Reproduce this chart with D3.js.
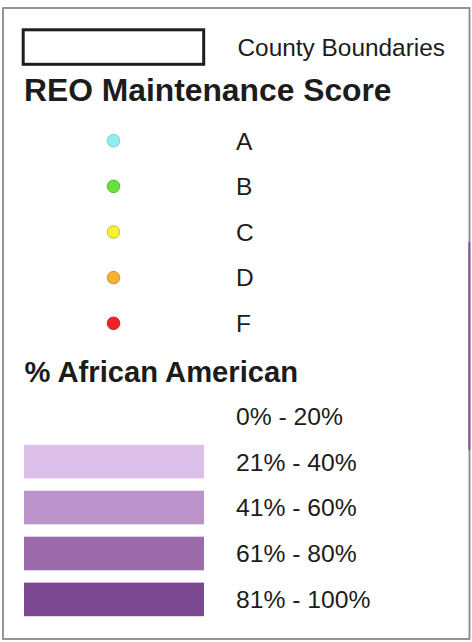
<!DOCTYPE html>
<html>
<head>
    <title>REO Maintenance Legend</title>
    <script src="https://d3js.org/d3.v7.min.js"></script>
    <style>
        body {
            margin: 0;
            background: #fff;
            font-family: "Liberation Sans", Arial, sans-serif;
        }
        text {
            fill: #1c1c1c;
        }
        .heading {
            font-weight: bold;
        }
    </style>
</head>
<body>
    <div id="legend"></div>

    <script>
        // Legend content
        const grades = ["A", "B", "C", "D", "F"];
        const gradeColors = ["#93eef4", "#66e23c", "#f7f12f", "#f6b22e", "#ef2323"];
        const gradeStrokes = ["#86c9cc", "#5bb83a", "#c9c43a", "#c99a3a", "#c92a2a"];

        const ranges = ["0% - 20%", "21% - 40%", "41% - 60%", "61% - 80%", "81% - 100%"];
        const rangeColors = [null, "#dbbfe9", "#bb92ca", "#9b6aab", "#7c4990"];

        const width = 472, height = 642;

        const svg = d3.select("#legend")
            .append("svg")
            .attr("width", width)
            .attr("height", height);

        // outer frame
        svg.append("rect")
            .attr("x", 3)
            .attr("y", 8)
            .attr("width", 466.5)
            .attr("height", 631)
            .attr("fill", "none")
            .attr("stroke", "#8a8a8a")
            .attr("stroke-width", 1.8);

        // bit of map showing through on the right edge
        svg.append("line")
            .attr("x1", 469.3).attr("x2", 469.3)
            .attr("y1", 242).attr("y2", 450)
            .attr("stroke", "#7d5a96")
            .attr("stroke-width", 2);

        // County boundaries
        svg.append("rect")
            .attr("x", 23.2)
            .attr("y", 29.8)
            .attr("width", 180.5)
            .attr("height", 34.5)
            .attr("fill", "none")
            .attr("stroke", "#1e1e1e")
            .attr("stroke-width", 3);

        svg.append("text")
            .attr("x", 237.5)
            .attr("y", 56)
            .attr("font-size", 24.4)
            .text("County Boundaries");

        // REO Maintenance Score
        svg.append("text")
            .attr("class", "heading")
            .attr("x", 24)
            .attr("y", 101)
            .attr("font-size", 31.8)
            .text("REO Maintenance Score");

        const yGrade = d3.scalePoint()
            .domain(grades)
            .range([140.7, 323.3]);

        const gradeRows = svg.selectAll(".grade")
            .data(grades)
            .enter()
            .append("g")
            .attr("class", "grade")
            .attr("transform", d => `translate(0,${yGrade(d)})`);

        gradeRows.append("circle")
            .attr("cx", 113.5)
            .attr("r", 6.3)
            .attr("fill", (d, i) => gradeColors[i])
            .attr("stroke", (d, i) => gradeStrokes[i])
            .attr("stroke-width", 1);

        gradeRows.append("text")
            .attr("x", 236)
            .attr("dy", "0.36em")
            .attr("font-size", 24.5)
            .text(d => d);

        // % African American
        svg.append("text")
            .attr("class", "heading")
            .attr("x", 24.5)
            .attr("y", 381.7)
            .attr("font-size", 29.2)
            .text("% African American");

        const yRange = d3.scalePoint()
            .domain(ranges)
            .range([415.7, 599.4]);

        const rangeRows = svg.selectAll(".range")
            .data(ranges)
            .enter()
            .append("g")
            .attr("class", "range")
            .attr("transform", d => `translate(0,${yRange(d)})`);

        rangeRows.filter((d, i) => rangeColors[i] !== null)
            .append("rect")
            .attr("x", 24)
            .attr("y", -16.8)
            .attr("width", 180)
            .attr("height", 33.6)
            .attr("fill", d => rangeColors[ranges.indexOf(d)]);

        rangeRows.append("text")
            .attr("x", 236)
            .attr("dy", "0.36em")
            .attr("font-size", 24.7)
            .text(d => d);
    </script>
</body>
</html>
